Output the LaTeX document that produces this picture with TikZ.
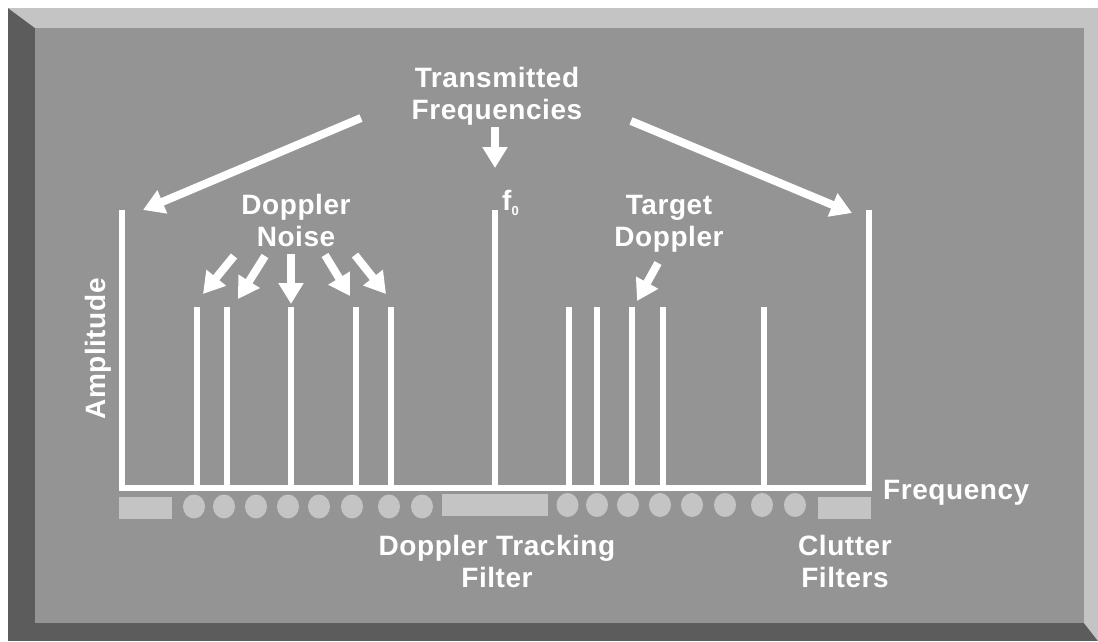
\documentclass[tikz,border=0pt]{standalone}
\usepackage{fontspec}
\setmainfont{Liberation Sans}
\newfontfamily\lab{Liberation Sans}[LetterSpace=2]
\usetikzlibrary{arrows.meta}
\definecolor{panel}{HTML}{949494}
\definecolor{lite}{HTML}{C4C4C4}
\definecolor{dark}{HTML}{5C5C5C}
\begin{document}
\begin{tikzpicture}[x=1pt,y=-1pt,
  lbl/.style={text=white,font=\lab\bfseries\fontsize{28}{32}\selectfont,align=center,inner sep=0pt,anchor=base},
  bar/.style={draw=white,line width=6pt},
  arr/.style={draw=white,line width=8pt,-{Triangle[width=24pt,length=21pt]}},
  filt/.style={fill=lite,draw=none}]
\useasboundingbox (0,0) rectangle (1098,641);
\fill[white] (0,0) rectangle (1098,641);
% frame
\fill[dark] (8,8) rectangle (1098,641);
\fill[lite] (8,8) -- (1098,8) -- (1098,641) -- (1084,623) -- (1084,28) -- (35,28) -- cycle;
\fill[panel] (35,28) rectangle (1084,623);
% axes
\coordinate (ltop) at (121.5,210);
\coordinate (rtop) at (868.5,210);
\coordinate (f0top) at (495,210);
\draw[bar,line join=miter] (ltop) -- (121.5,488) -- (868.5,488) -- (rtop);
\draw[bar] (f0top) -- (495,488);
% noise bars
\foreach \n/\x in {n1/196.5,n2/227,n3/291,n4/355.5,n5/390.5,t1/568.5,t2/597,t3/631.5,t4/662.5,t5/763.5}{
  \coordinate (\n) at (\x,307);
  \draw[bar] (\n) -- (\x,488);
}
% filters
\fill[filt] (119,497) rectangle (172,519);
\fill[filt] (442,494) rectangle (548,516);
\fill[filt] (818,497) rectangle (871,519);
\foreach \x in {194,224,256,288,319,352,389,422}{
  \fill[filt] (\x,506.5) ellipse [x radius=11, y radius=12];
}
\foreach \x in {567.5,597,628,660,692,725,762,795}{
  \fill[filt] (\x,505) ellipse [x radius=11, y radius=12];
}
% labels
\node[lbl] (tf) at (497,119) {Transmitted\\Frequencies};
\node[lbl] (dn) at (296,246) {Doppler\\Noise};
\node[lbl] (td) at (669,246) {Target\\Doppler};
\node[lbl] (dtf) at (497,587) {Doppler Tracking\\Filter};
\node[lbl] (cf) at (845,587) {Clutter\\Filters};
\node[lbl,anchor=base west] (fr) at (883,499) {Frequency};
\node[lbl,rotate=90] (amp) at (105,349) {Amplitude};
\node[lbl,anchor=base west] (f0) at (502,210) {f\raisebox{-5pt}{\fontsize{13}{13}\selectfont 0}};
% arrows
\coordinate (a1s) at (361,118); \coordinate (a1e) at (143,210);
\coordinate (a2s) at (631,121); \coordinate (a2e) at (852,213);
\coordinate (a3s) at (495,127); \coordinate (a3e) at (495,168);
\draw[arr] (a1s) -- (a1e);
\draw[arr] (a2s) -- (a2e);
\draw[arr] (a3s) -- (a3e);
\coordinate (d1s) at (234,256); \coordinate (d1e) at (203,294);
\coordinate (d2s) at (265,256); \coordinate (d2e) at (238,299);
\coordinate (d3s) at (291,254); \coordinate (d3e) at (291,304);
\coordinate (d4s) at (325,255); \coordinate (d4e) at (350,296);
\coordinate (d5s) at (355,255); \coordinate (d5e) at (386,294);
\coordinate (t1s) at (658,263); \coordinate (t1e) at (637,301);
\foreach \s/\e in {d1s/d1e,d2s/d2e,d3s/d3e,d4s/d4e,d5s/d5e,t1s/t1e}{
  \draw[arr] (\s) -- (\e);
}
\end{tikzpicture}
\end{document}
